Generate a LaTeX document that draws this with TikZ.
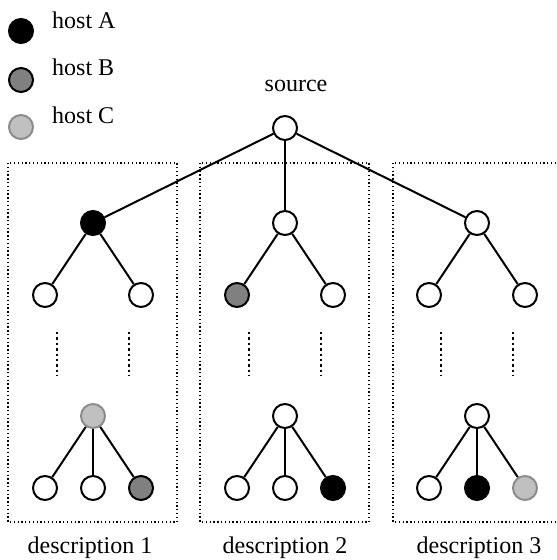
\documentclass[tikz,border=0pt]{standalone}
\usepackage{fontspec}
\setmainfont{Liberation Serif}

\definecolor{hostgrey}{HTML}{808080}
\definecolor{hostlight}{HTML}{C0C0C0}
\definecolor{hostline}{HTML}{8C8C8C}

\tikzset{
	host/.style={circle, draw, line width=2pt, minimum size=24pt, inner sep=0pt, fill=white},
	hostA/.style={host, fill=black},
	hostB/.style={host, fill=hostgrey},
	hostC/.style={host, draw=hostline, fill=hostlight},
	edge/.style={line width=2pt},
	elide/.style={line width=2.4pt, dash pattern=on 2.4pt off 3pt},
	frame/.style={line width=1.2pt, dash pattern=on 1.3pt off 2.5pt},
	caption/.style={inner sep=0pt}
}

\begin{document}
\begin{tikzpicture}[x=1pt, y=-1pt, font=\fontsize{24}{28}\selectfont]
			\useasboundingbox (0,0) rectangle (557,560);
			
			% legend
			\node[hostA] (LA) at (21,31) {};
			\node[hostB] (LB) at (21,80) {};
			\node[hostC] (LC) at (21,127) {};
			\node[caption, anchor=base west] (TA) at (52,28) {host A};
			\node[caption, anchor=base west] (TB) at (52,75) {host B};
			\node[caption, anchor=base west] (TC) at (52,123) {host C};
			
			% description frames
			\draw[frame] (8,163) rectangle (177,522);
			\draw[frame] (200,163) rectangle (369,522);
			\draw[frame] (393,163) rectangle (562,522);
			
			% source
			\node[caption, anchor=base] (T) at (296,91) {source};
			\node[host] (S) at (285,128) {};
			
			% description 1
			\node[hostA] (A) at (93,223) {};
			\node[host] (A1) at (45,295) {};
			\node[host] (A2) at (141,295) {};
			\coordinate (A3) at (57,332);
			\coordinate (A4) at (57,376);
			\coordinate (A5) at (129,332);
			\coordinate (A6) at (129,376);
			\node[hostC] (A7) at (93,416) {};
			\node[host] (A8) at (45,488) {};
			\node[host] (A9) at (93,488) {};
			\node[hostB] (A10) at (141,488) {};
			
			% description 2
			\node[host] (B) at (285,223) {};
			\node[hostB] (B1) at (237,295) {};
			\node[host] (B2) at (333,295) {};
			\coordinate (B3) at (249,332);
			\coordinate (B4) at (249,376);
			\coordinate (B5) at (321,332);
			\coordinate (B6) at (321,376);
			\node[host] (B7) at (285,416) {};
			\node[host] (B8) at (237,488) {};
			\node[host] (B9) at (285,488) {};
			\node[hostA] (B10) at (333,488) {};
			
			% description 3
			\node[host] (C) at (477,223) {};
			\node[host] (C1) at (429,295) {};
			\node[host] (C2) at (525,295) {};
			\coordinate (C3) at (441,332);
			\coordinate (C4) at (441,376);
			\coordinate (C5) at (513,332);
			\coordinate (C6) at (513,376);
			\node[host] (C7) at (477,416) {};
			\node[host] (C8) at (429,488) {};
			\node[hostA] (C9) at (477,488) {};
			\node[hostC] (C10) at (525,488) {};
			
			\draw[edge] (S) -- (A);
			\draw[edge] (S) -- (B);
			\draw[edge] (S) -- (C);
			
			\draw[edge] (A1) -- (A) -- (A2);
			\draw[edge] (B1) -- (B) -- (B2);
			\draw[edge] (C1) -- (C) -- (C2);
			
			\draw[elide] (A3) -- (A4);
			\draw[elide] (A5) -- (A6);
			\draw[elide] (B3) -- (B4);
			\draw[elide] (B5) -- (B6);
			\draw[elide] (C3) -- (C4);
			\draw[elide] (C5) -- (C6);
			
			\draw[edge] (A7) -- (A8);
			\draw[edge] (A7) -- (A9);
			\draw[edge] (A7) -- (A10);
			\draw[edge] (B7) -- (B8);
			\draw[edge] (B7) -- (B9);
			\draw[edge] (B7) -- (B10);
			\draw[edge] (C7) -- (C8);
			\draw[edge] (C7) -- (C9);
			\draw[edge] (C7) -- (C10);
			
			\node[caption, anchor=base] (D1) at (90,553) {description 1};
			\node[caption, anchor=base] (D2) at (285,553) {description 2};
			\node[caption, anchor=base] (D3) at (479,553) {description 3};
\end{tikzpicture}
\end{document}
